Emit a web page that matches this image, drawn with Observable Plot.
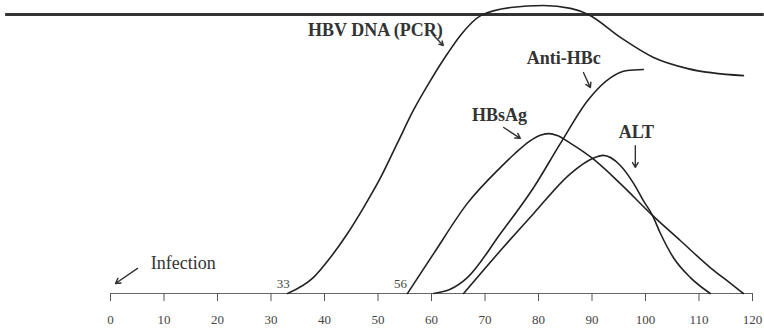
<!DOCTYPE html>
<html>
<head>
<meta charset="utf-8">
<script src="https://cdn.jsdelivr.net/npm/d3@7"></script>
<script src="https://cdn.jsdelivr.net/npm/@observablehq/plot@0.6"></script>
<style>
  html, body { margin: 0; padding: 0; background: #fff; }
  #chart svg { display: block; }
</style>
</head>
<body>
<div id="chart"></div>
<script>
// ---- data (days after infection, relative level; 100 = assay ceiling line) ----
const hbvDnaDays  = [33.1, 37.9, 41.1, 44.3, 47.3, 50.5, 53.6, 56.6, 59.8, 63, 65.4, 69.2, 74.8, 80.9, 86, 89.3, 95.3, 101.5, 107.9, 118.3];
const hbvDnaLevel = [0, 5.7, 12.9, 21.5, 30.8, 41.6, 53.8, 65.6, 76.3, 86, 92.5, 99.6, 102.5, 103.2, 102.2, 100, 91.8, 84.6, 80.6, 78.1];

const hbsAgDays  = [55.5, 60.4, 66.7, 72.9, 75.5, 78.5, 80.5, 82, 83.5, 86, 90.1, 95.3, 101.3, 106.5, 112.1, 115.9, 118.3];
const hbsAgLevel = [0, 14.3, 32.3, 45.2, 50, 54.8, 56.8, 57.3, 56.6, 53.8, 48.4, 39.4, 28, 19, 9.3, 3.6, 0];

const antiHBcDays  = [60.4, 63.5, 66.7, 72.9, 79.1, 84.1, 89.2, 93.5, 96.6, 99.6];
const antiHBcLevel = [0, 1.5, 5.7, 21.5, 38, 53.8, 69.2, 77.4, 79.9, 80.3];

const altDays  = [66, 72.9, 79.1, 86, 90.1, 92.1, 95.3, 97.8, 99.6, 101.3, 102.8, 105.2, 108.4, 112.1];
const altLevel = [0, 15.4, 28.7, 43, 48.4, 49.5, 45.9, 39.4, 33.3, 28, 21.5, 12.9, 5.7, 0];

const tickDays = [0, 10, 20, 30, 40, 50, 60, 70, 80, 90, 100, 110, 120];

const ceilingLevel = 100;
const ceilingSpan = [-19.6, 122.2];

const labelText = ["HBV DNA (PCR)", "Anti-HBc", "HBsAg", "ALT", "Infection"];
const labelX    = [49.5, 84.7, 72.7, 98.3, 13.6];
const labelY    = [94.3, 84.2, 63.8, 57.7, 10.8];

const onsetText = ["33", "56"];
const onsetX    = [32.3, 54.2];
const onsetY    = [3.6, 3.6];

const arrowX1 = [60.4, 88.4, 73.5, 98.1, 5.05];
const arrowY1 = [92.5, 79.2, 59.5, 53.0, 9.0];
const arrowX2 = [62.2, 89.7, 76.6, 98.1, 0.93];
const arrowY2 = [88.9, 73.8, 55.6, 45.2, 3.6];

// ---- build tables ----
const series = (d, v) => d.map((x, i) => ({x, y: v[i]}));
const labels = labelText.map((t, i) => ({t, x: labelX[i], y: labelY[i]}));
const onsets = onsetText.map((t, i) => ({t, x: onsetX[i], y: onsetY[i]}));
const arrows = arrowX1.map((x1, i) => ({x1, y1: arrowY1[i], x2: arrowX2[i], y2: arrowY2[i]}));

const ink = "#222";
const serif = "'Liberation Serif', 'DejaVu Serif', serif";
const lineOpts = {x: "x", y: "y", curve: "monotone-x", stroke: ink, strokeWidth: 1.6};

const chart = Plot.plot({
  width: 764,
  height: 330,
  marginLeft: 110,
  marginRight: 12,
  marginTop: 14,
  marginBottom: 37,
  x: {domain: [0, 120]},
  y: {domain: [0, 100], axis: null},
  style: {fontFamily: serif, background: "#fff"},
  marks: [
    Plot.ruleY([ceilingLevel], {x1: ceilingSpan[0], x2: ceilingSpan[1], stroke: "#333", strokeWidth: 3.2}),
    Plot.ruleY([0], {x1: tickDays[0], x2: tickDays[tickDays.length - 1], stroke: "#666", strokeWidth: 1.2}),
    Plot.axisX({ticks: tickDays, tickSize: 8, tickPadding: 13, stroke: "#555", fill: "#444", fontSize: 13, tickFormat: d => String(d), label: null}),
    Plot.line(series(hbvDnaDays, hbvDnaLevel), lineOpts),
    Plot.line(series(hbsAgDays, hbsAgLevel), lineOpts),
    Plot.line(series(antiHBcDays, antiHBcLevel), lineOpts),
    Plot.line(series(altDays, altLevel), lineOpts),
    Plot.arrow(arrows, {x1: "x1", y1: "y1", x2: "x2", y2: "y2", stroke: "#333", strokeWidth: 1.4, headLength: 6}),
    Plot.text(labels.slice(0, 4), {x: "x", y: "y", text: "t", fontSize: 18, fontWeight: "bold", fill: "#333", fontFamily: serif}),
    Plot.text(labels.slice(4), {x: "x", y: "y", text: "t", fontSize: 18, fill: "#333", fontFamily: serif, style: "letter-spacing:1px"}),
    Plot.text(onsets, {x: "x", y: "y", text: "t", fontSize: 13, fill: "#444", fontFamily: serif})
  ]
});
document.getElementById("chart").appendChild(chart);
</script>
</body>
</html>
